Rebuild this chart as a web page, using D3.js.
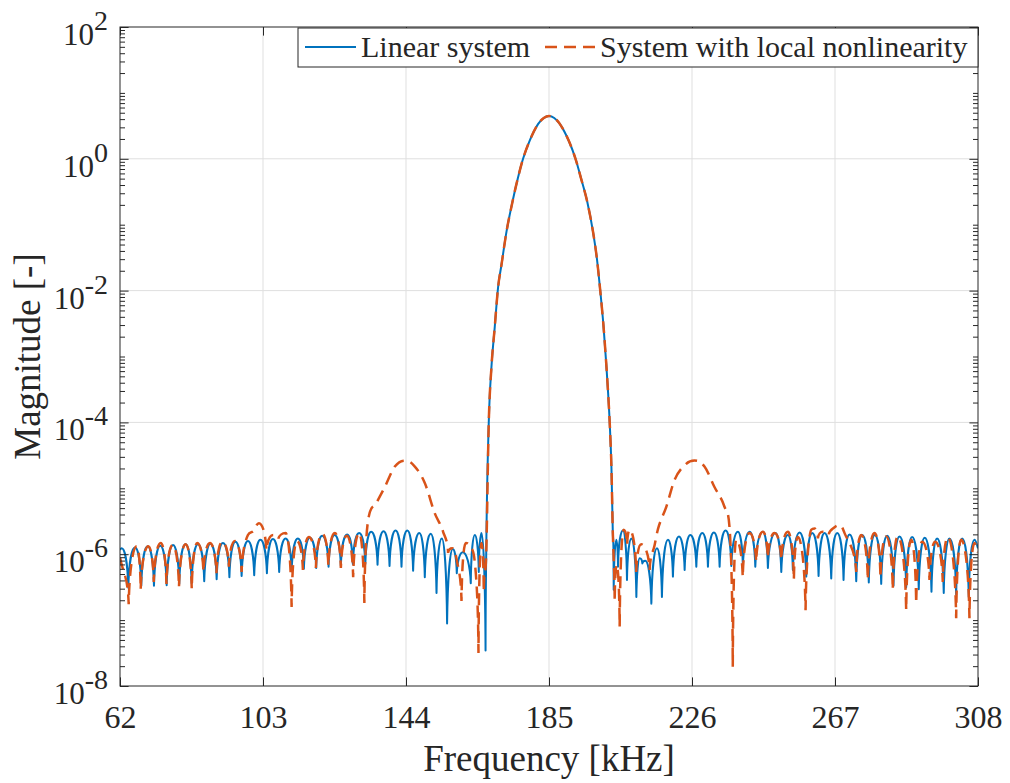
<!DOCTYPE html>
<html>
<head>
  <meta charset="utf-8">
  <script src="https://d3js.org/d3.v7.min.js"></script>
  <style>
    body { margin: 0; background: #fff; }
    svg text { font-family: "Times New Roman", Times, "Liberation Serif", serif !important; fill: #262626; }
  </style>
</head>
<body>
  <script>

  // [frequency kHz, log10 magnitude]
  var linLeft = [[62.0,-5.93],[62.49,-5.91],[64.38,-6.51],[66.30,-5.90],[68.10,-6.48],[69.94,-5.88],[71.74,-6.48],[73.55,-5.87],[75.38,-6.47],[77.19,-5.86],[78.99,-6.45],[80.77,-5.85],[82.54,-6.44],[84.35,-5.85],[86.15,-6.41],[87.93,-5.84],[89.71,-6.38],[91.51,-5.83],[93.37,-6.35],[95.09,-5.81],[96.87,-6.33],[98.68,-5.80],[100.48,-6.32],[102.26,-5.78],[104.12,-6.29],[105.84,-5.77],[107.64,-6.27],[109.48,-5.76],[111.20,-6.26],[113.00,-5.76],[114.72,-6.22],[116.44,-5.75],[118.25,-6.21],[119.97,-5.72],[121.80,-6.19],[123.52,-5.71],[125.32,-6.18],[127.13,-5.70],[128.76,-6.15],[130.57,-5.68],[132.34,-6.15],[134.01,-5.66],[135.84,-6.16],[137.56,-5.65],[139.28,-6.18],[141.00,-5.64],[142.71,-6.19],[144.38,-5.64],[146.04,-6.25],[147.82,-5.68],[149.39,-6.35],[151.11,-5.69],[152.75,-6.59],[154.26,-5.76],[155.78,-7.05],[157.41,-5.92],[158.56,-6.29],[160.28,-5.97],[162.57,-6.44],[163.72,-5.71],[164.87,-6.27],[165.64,-5.68],[166.81,-7.46]];

  var mainLobe = [[167.0,-6.0],[167.73,-4.0],[168.5,-3.16],[169.45,-2.55],[170.4,-1.95],[171.4,-1.60],[172.8,-1.11],[174.7,-0.61],[176.0,-0.31],[177.56,0.0],[179.5,0.28],[181.9,0.53],[183.5,0.62],[185.0,0.65],[186.5,0.62],[188.1,0.53],[190.7,0.27],[192.6,0.0],[194.2,-0.30],[196.0,-0.66],[197.6,-1.10],[198.7,-1.50],[199.6,-1.95],[200.6,-2.52],[201.4,-3.10],[201.9,-3.51],[202.4,-4.0],[202.9,-4.68],[203.3,-5.68],[203.5,-6.0]];

  var linRight = [[203.55,-6.54],[204.32,-5.78],[204.78,-6.19],[206.21,-5.64],[207.36,-6.39],[208.62,-5.76],[210.05,-6.65],[211.0,-6.06],[211.77,-6.14],[212.63,-6.10],[214.35,-6.75],[215.95,-5.91],[217.38,-6.65],[219.10,-5.78],[220.53,-6.34],[222.25,-5.73],[223.89,-6.24],[225.52,-5.71],[227.24,-6.19],[228.96,-5.68],[230.57,-6.19],[232.28,-5.67],[233.92,-6.19],[235.64,-5.64],[237.27,-6.18],[239.16,-5.66],[240.59,-6.19],[242.51,-5.66],[244.15,-6.19],[246.32,-5.66],[247.76,-6.21],[249.88,-5.68],[251.60,-6.27],[253.49,-5.71],[254.92,-6.24],[256.84,-5.67],[258.76,-6.34],[260.48,-5.68],[262.29,-6.33],[264.0,-5.68],[265.92,-6.37],[267.64,-5.68],[269.45,-6.39],[271.17,-5.70],[273.09,-6.41],[274.78,-5.71],[276.69,-6.43],[278.41,-5.71],[280.25,-6.45],[281.96,-5.72],[283.77,-6.48],[285.49,-5.73],[287.41,-6.50],[289.11,-5.74],[291.02,-6.53],[292.72,-5.75],[294.66,-6.57],[296.27,-5.76],[298.18,-6.59],[299.82,-5.76],[301.74,-6.61],[303.46,-5.76],[305.35,-6.65],[306.98,-5.78],[308.0,-5.91]];

  var nlLeft = [[62.0,-6.05],[64.49,-6.76],[66.79,-5.88],[67.93,-6.54],[70.11,-5.88],[71.68,-6.42],[73.66,-5.83],[75.32,-6.45],[77.10,-5.86],[78.91,-6.50],[80.82,-5.85],[82.57,-6.53],[84.15,-5.83],[85.93,-6.27],[87.79,-5.83],[89.65,-6.29],[91.31,-5.81],[93.23,-6.19],[94.95,-5.80],[96.87,-6.27],[98.68,-5.71],[100.25,-5.65],[101.83,-5.53],[103.98,-5.94],[105.93,-5.71],[107.36,-5.77],[109.48,-5.68],[111.20,-6.80],[112.72,-5.80],[114.44,-6.24],[116.15,-5.74],[118.16,-6.21],[120.02,-5.69],[121.74,-6.18],[123.60,-5.68],[125.32,-6.21],[127.04,-5.72],[128.85,-6.35],[130.57,-5.68],[132.06,-6.74],[133.15,-5.48],[135.56,-5.22],[137.93,-4.98],[140.80,-4.67],[143.66,-4.58],[146.53,-4.67],[149.39,-4.92],[152.26,-5.38],[154.64,-5.66],[156.07,-5.98],[157.27,-5.91],[158.56,-6.09],[159.91,-6.71],[161.14,-5.83],[162.43,-5.89],[163.72,-6.12],[164.78,-7.50],[165.64,-5.83],[166.30,-6.57]];

  var nlRight = [[203.83,-6.72],[204.40,-6.16],[205.26,-7.10],[206.41,-5.63],[207.41,-5.86],[208.13,-5.63],[210.0,-6.27],[211.43,-5.85],[213.86,-6.24],[215.29,-5.86],[216.24,-5.62],[218.64,-5.28],[221.02,-4.87],[223.89,-4.65],[226.71,-4.58],[229.58,-4.67],[232.44,-4.98],[235.31,-5.28],[236.74,-5.58],[237.69,-7.71],[238.66,-5.78],[240.55,-6.35],[242.47,-5.68],[244.39,-6.12],[246.32,-5.66],[247.75,-6.06],[249.67,-5.68],[251.59,-6.09],[253.49,-5.66],[255.21,-6.39],[256.35,-5.74],[258.56,-6.85],[260.19,-5.63],[261.14,-5.61],[262.09,-5.76],[263.52,-5.66],[265.16,-5.71],[266.87,-5.59],[268.31,-5.56],[269.74,-5.68],[273.09,-6.27],[274.52,-5.71],[276.41,-6.39],[278.33,-5.68],[280.05,-6.36],[281.68,-5.73],[283.57,-6.54],[285.0,-5.73],[287.41,-6.85],[288.84,-5.78],[290.28,-6.75],[292.0,-5.81],[294.09,-6.39],[295.72,-5.81],[297.90,-6.42],[299.33,-5.74],[301.74,-6.97],[303.17,-5.78],[305.55,-6.97],[306.98,-5.83],[308.0,-5.97]];

  var xTicks = [62, 103, 144, 185, 226, 267, 308];
  var yTickExp = [-8, -6, -4, -2, 0, 2];
  var seriesNames = ["Linear system", "System with local nonlinearity"];
  var colors = ["#0072BD", "#D95319"];

  var width = 1010, height = 783;
  var L = 120, R = 978, T = 27, B = 686;

  var x = d3.scaleLinear().domain([62, 308]).range([L, R]);
  var y = d3.scaleLog().domain([1e-8, 1e2]).range([B, T]);

  // curve: flat tops at peaks, sharp cusps at dips, smooth elsewhere
  function Cusp(context) { this._context = context; }
  Cusp.prototype = {
    areaStart: function() {}, areaEnd: function() {},
    lineStart: function() { this._p = []; },
    point: function(px, py) { this._p.push([+px, +py]); },
    lineEnd: function() {
      var p = this._p, n = p.length, c = this._context;
      if (!n) return;
      c.moveTo(p[0][0], p[0][1]);
      var kind = [], m = [];
      for (var i = 0; i < n; i++) {
        var s0 = i > 0 ? (p[i][1] - p[i-1][1]) / (p[i][0] - p[i-1][0]) : null;
        var s1 = i < n - 1 ? (p[i+1][1] - p[i][1]) / (p[i+1][0] - p[i][0]) : null;
        if (s0 === null) { kind[i] = "mid"; m[i] = s1; }
        else if (s1 === null) { kind[i] = "mid"; m[i] = s0; }
        else if (s0 > 0 && s1 < 0) kind[i] = "low";
        else if (s0 < 0 && s1 > 0) kind[i] = "high";
        else {
          kind[i] = "mid";
          if (s0 * s1 <= 0) m[i] = 0;
          else {
            var a = (s0 + s1) / 2, lim = 3 * Math.min(Math.abs(s0), Math.abs(s1));
            m[i] = Math.sign(a) * Math.min(Math.abs(a), lim);
          }
        }
      }
      for (var j = 0; j < n - 1; j++) {
        var x0 = p[j][0], y0 = p[j][1], x1 = p[j+1][0], y1 = p[j+1][1];
        var dx = x1 - x0, dy = y1 - y0, c1, c2;
        if (kind[j] === "high") c1 = [x0 + 0.45 * dx, y0];
        else if (kind[j] === "low") c1 = [x0 + 0.1 * dx, y0 + 0.62 * dy];
        else c1 = [x0 + dx / 3, y0 + m[j] * dx / 3];
        if (kind[j+1] === "high") c2 = [x1 - 0.45 * dx, y1];
        else if (kind[j+1] === "low") c2 = [x1 - 0.1 * dx, y1 - 0.62 * dy];
        else c2 = [x1 - dx / 3, y1 - m[j+1] * dx / 3];
        c.bezierCurveTo(c1[0], c1[1], c2[0], c2[1], x1, y1);
      }
    }
  };

  var svg = d3.select("body").append("svg")
      .attr("width", width)
      .attr("height", height);

  svg.append("rect").attr("width", width).attr("height", height).attr("fill", "#fff");

  // grid
  var grid = svg.append("g").attr("stroke", "#dfdfdf").attr("stroke-width", 1);
  grid.selectAll("line.gx")
      .data(xTicks.slice(1, -1))
      .enter().append("line")
      .attr("x1", function(d) { return x(d); }).attr("x2", function(d) { return x(d); })
      .attr("y1", T).attr("y2", B);
  grid.selectAll("line.gy")
      .data(yTickExp.slice(1, -1))
      .enter().append("line")
      .attr("y1", function(d) { return y(Math.pow(10, d)); }).attr("y2", function(d) { return y(Math.pow(10, d)); })
      .attr("x1", L).attr("x2", R);

  svg.append("clipPath").attr("id", "plotclip")
    .append("rect").attr("x", L).attr("y", T).attr("width", R - L).attr("height", B - T);

  var line = d3.line()
      .x(function(d) { return x(d[0]); })
      .y(function(d) { return y(Math.pow(10, d[1])); })
      .curve(function(ctx) { return new Cusp(ctx); });

  var linear = linLeft.concat(mainLobe, linRight);
  var nonlinear = nlLeft.concat(mainLobe, nlRight);

  var plot = svg.append("g").attr("clip-path", "url(#plotclip)");
  plot.append("path")
      .attr("d", line(linear))
      .attr("fill", "none")
      .attr("stroke", colors[0])
      .attr("stroke-width", 2)
      .attr("stroke-linejoin", "round");
  plot.append("path")
      .attr("d", line(nonlinear))
      .attr("fill", "none")
      .attr("stroke", colors[1])
      .attr("stroke-width", 2.5)
      .attr("stroke-dasharray", "12,7");

  // axes
  var minor = [];
  for (var k = -8; k < 2; k++) {
    for (var d = 1; d < 10; d++) {
      var v = d * Math.pow(10, k);
      if (!(d === 1 && k % 2 === 0)) minor.push(v);
    }
  }
  var major = yTickExp.map(function(e) { return Math.pow(10, e); });

  function clean(g) {
    g.select(".domain").remove();
    g.selectAll("line").attr("stroke", "#262626");
  }

  var gx = svg.append("g").attr("transform", "translate(0," + B + ")")
      .call(d3.axisBottom(x).tickValues(xTicks).tickSize(-8.6).tickSizeOuter(0))
      .call(clean);
  gx.selectAll("text")
      .attr("y", 42).attr("dy", null)
      .style("font-size", "32px")
      .attr("fill", "#262626");

  svg.append("g").attr("transform", "translate(0," + T + ")")
      .call(d3.axisTop(x).tickValues(xTicks).tickSize(-8.6).tickSizeOuter(0).tickFormat(""))
      .call(clean);

  [[L, d3.axisLeft], [R, d3.axisRight]].forEach(function(s) {
    svg.append("g").attr("transform", "translate(" + s[0] + ",0)")
        .call(s[1](y).tickValues(major).tickSize(-8.6).tickSizeOuter(0).tickFormat(""))
        .call(clean);
    svg.append("g").attr("transform", "translate(" + s[0] + ",0)")
        .call(s[1](y).tickValues(minor).tickSize(-5).tickSizeOuter(0).tickFormat(""))
        .call(clean);
  });

  // y tick labels with superscripts
  var yl = svg.append("g").selectAll("text")
      .data(yTickExp)
      .enter().append("text")
      .attr("x", 108)
      .attr("y", function(e) { return y(Math.pow(10, e)) + 18; })
      .attr("text-anchor", "end")
      .style("font-size", "31px");
  yl.append("tspan").text("10");
  yl.append("tspan").attr("dy", -15).style("font-size", "28px").text(function(e) { return String(e); });

  // box
  svg.append("rect")
      .attr("x", L).attr("y", T).attr("width", R - L).attr("height", B - T)
      .attr("fill", "none").attr("stroke", "#262626").attr("stroke-width", 1);

  // axis labels
  svg.append("text")
      .attr("x", (L + R) / 2).attr("y", 771)
      .attr("text-anchor", "middle")
      .style("font-size", "37px")
      .text("Frequency [kHz]");
  svg.append("text")
      .attr("transform", "translate(40," + (T + B) / 2 + ") rotate(-90)")
      .attr("text-anchor", "middle")
      .style("font-size", "37px")
      .text("Magnitude [-]");

  // legend
  var lg = svg.append("g");
  lg.append("rect")
      .attr("x", 298).attr("y", 28).attr("width", R - 298).attr("height", 39)
      .attr("fill", "#fff").attr("stroke", "#262626").attr("stroke-width", 1);
  lg.append("line").attr("x1", 305).attr("x2", 356).attr("y1", 47).attr("y2", 47)
      .attr("stroke", colors[0]).attr("stroke-width", 2);
  lg.append("text").attr("x", 361).attr("y", 57).style("font-size", "30px").text(seriesNames[0]);
  lg.append("line").attr("x1", 545).attr("x2", 598).attr("y1", 47).attr("y2", 47)
      .attr("stroke", colors[1]).attr("stroke-width", 2.5).attr("stroke-dasharray", "12,7");
  lg.append("text").attr("x", 600).attr("y", 57).style("font-size", "30px").text(seriesNames[1]);

  </script>
</body>
</html>
